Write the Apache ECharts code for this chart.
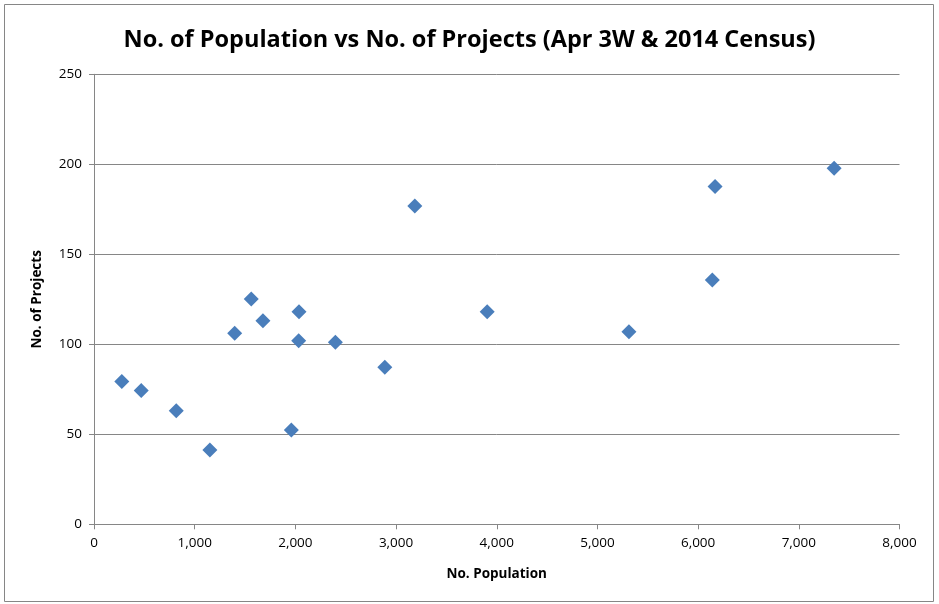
<!DOCTYPE html>
<html><head><meta charset="utf-8">
<script src="https://cdn.jsdelivr.net/npm/echarts@6/dist/echarts.min.js"></script>
<style>html,body{margin:0;padding:0;background:#fff}#c{width:939px;height:604px}</style>
</head><body><div id="c"></div>
<script>
const population = [276, 469, 817, 1151, 1397, 1562, 1678, 1960, 2033, 2036, 2397, 2888, 3186, 3905, 5313, 6141, 6168, 7351];
const projects = [79.4, 74.4, 63.1, 41.3, 106.1, 125.2, 113.1, 52.4, 102, 118.1, 101.1, 87.2, 176.8, 118.1, 107, 135.7, 187.6, 197.8];
const titleText = 'No. of Population vs No. of Projects (Apr 3W & 2014 Census)';
const xName = 'No. Population';
const yName = 'No. of Projects';

const font = '"Open Sans", sans-serif';
const chart = echarts.init(document.getElementById('c'), null, {renderer: 'canvas'});
chart.setOption({
  animation: false,
  backgroundColor: '#fff',
  graphic: [{type: 'rect', shape: {x: 4.5, y: 4.5, width: 929, height: 597}, style: {fill: 'none', stroke: '#868686', lineWidth: 1}, silent: true}],
  title: {text: titleText, left: 'center', top: 23, textStyle: {fontFamily: font, fontSize: 23.5, fontWeight: 'bold', color: '#000'}},
  grid: {left: 94, right: 39.5, top: 74.3, bottom: 79.7},
  xAxis: {
    type: 'value', min: 0, max: 8000, interval: 1000,
    name: xName, nameLocation: 'middle', nameGap: 43,
    nameTextStyle: {fontFamily: font, fontSize: 13.5, fontWeight: 'bold', color: '#000'},
    axisLine: {show: true, lineStyle: {color: '#868686'}},
    axisTick: {show: true, inside: false, length: 5, lineStyle: {color: '#868686'}},
    axisLabel: {fontFamily: font, fontSize: 13.5, color: '#000', margin: 12, formatter: v => v.toLocaleString('en-US')},
    splitLine: {show: false}
  },
  yAxis: {
    type: 'value', min: 0, max: 250, interval: 50,
    name: yName, nameLocation: 'middle', nameGap: 50, nameRotate: 90,
    nameTextStyle: {fontFamily: font, fontSize: 13.5, fontWeight: 'bold', color: '#000'},
    axisLine: {show: true, lineStyle: {color: '#868686'}},
    axisTick: {show: true, length: 5, lineStyle: {color: '#868686'}},
    axisLabel: {fontFamily: font, fontSize: 13.5, color: '#000', margin: 12},
    splitLine: {show: true, lineStyle: {color: '#868686', width: 1}}
  },
  series: [{
    type: 'scatter', symbol: 'diamond', symbolSize: 15,
    itemStyle: {color: '#4a7ebb', opacity: 1},
    data: population.map((p, i) => [p, projects[i]])
  }]
});
</script></body></html>
